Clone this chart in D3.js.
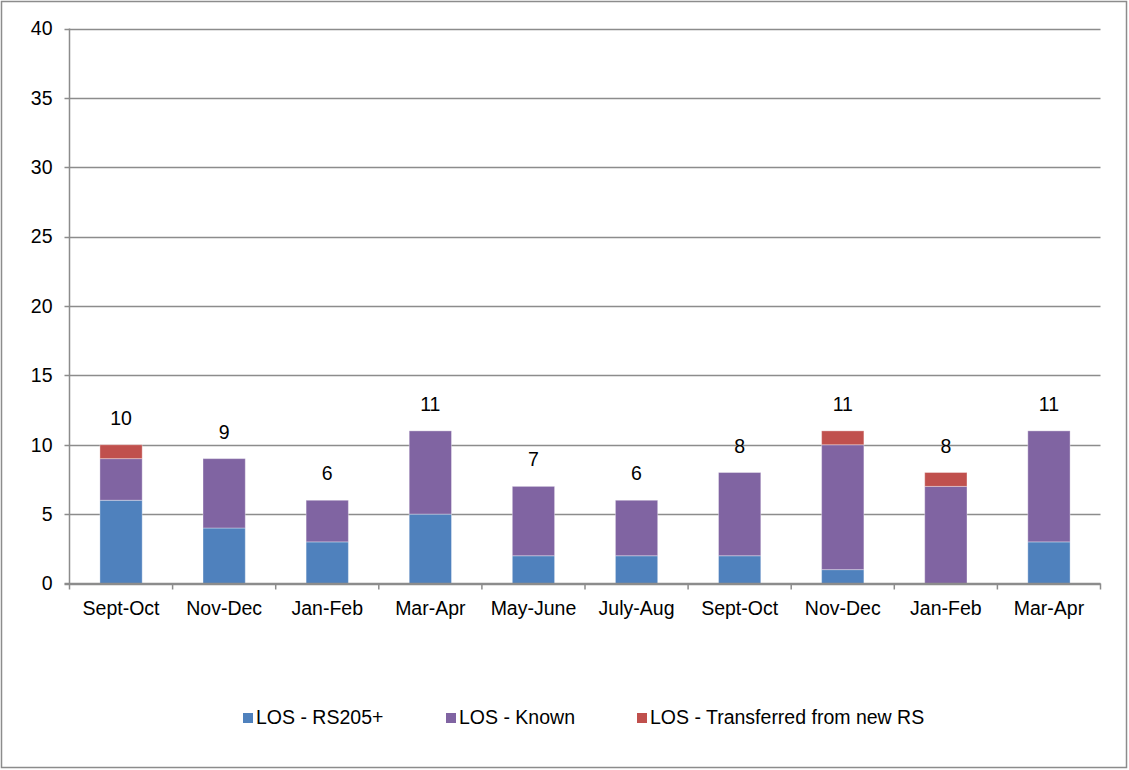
<!DOCTYPE html>
<html><head><meta charset="utf-8">
<script src="https://cdn.jsdelivr.net/npm/d3@7"></script>
<style>body{margin:0;background:#fff}svg{display:block}text{font-family:"Liberation Sans",Arial,sans-serif}</style>
</head><body>
<script>
const categories = ["Sept-Oct","Nov-Dec","Jan-Feb","Mar-Apr","May-June","July-Aug","Sept-Oct","Nov-Dec","Jan-Feb","Mar-Apr"];
const rs205 = [6,4,3,5,2,2,2,1,0,3];
const known = [3,5,3,6,5,4,6,9,7,8];
const transferred = [1,0,0,0,0,0,0,1,1,0];
const seriesNames = ["LOS - RS205+","LOS - Known","LOS - Transferred from new RS"];
const yTicks = [0,5,10,15,20,25,30,35,40];
const colors = ["#4F81BD","#8064A2","#C0504D"];

const W=1129,H=770,FS=19.5;
const svg=d3.select("body").append("svg").attr("width",W).attr("height",H);
svg.append("rect").attr("x",1.5).attr("y",1.5).attr("width",W-4).attr("height",H-4).attr("fill","#fff").attr("stroke","#8c8c8c").attr("stroke-width",1.5);

const L=69.5,R=1100.5,T=28.5,B=583.5;
const x=d3.scaleBand().domain(d3.range(categories.length)).range([L,R]).paddingInner(0.59).paddingOuter(0.295);
const y=d3.scaleLinear().domain([0,40]).range([B,T]);

const g=svg.append("g");
g.selectAll("line.grid").data(yTicks).join("line").attr("x1",L-5).attr("x2",R).attr("y1",d=>Math.round(y(d))+0.5).attr("y2",d=>Math.round(y(d))+0.5).attr("stroke","#8c8c8c").attr("stroke-width",1.3);
g.selectAll("text.yl").data(yTicks).join("text").attr("x",L-17).attr("y",d=>y(d)).attr("dy","0.35em").attr("text-anchor","end").attr("font-size",FS).attr("fill","#000").text(d=>d);

const data=categories.map((c,i)=>({i,vals:[rs205[i],known[i],transferred[i]]}));
const stack=d3.stack().keys([0,1,2]).value((d,k)=>d.vals[k]);
const layers=stack(data);
layers.forEach((layer,k)=>{
  g.selectAll(null).data(layer).join("rect")
   .attr("x",d=>x(d.data.i)).attr("width",x.bandwidth())
   .attr("y",d=>y(d[1])).attr("height",d=>Math.max(0,y(d[0])-y(d[1])))
   .attr("fill",colors[k]).attr("stroke",d=>d[1]>d[0]?"#ffffff":"none").attr("stroke-opacity",0.35).attr("stroke-width",1);
});
g.selectAll("text.tot").data(data).join("text").attr("x",d=>x(d.i)+x.bandwidth()/2).attr("y",d=>y(d3.sum(d.vals))-20)
 .attr("text-anchor","middle").attr("font-size",FS).attr("fill","#000").text(d=>d3.sum(d.vals));

g.append("line").attr("x1",L).attr("x2",L).attr("y1",T).attr("y2",B).attr("stroke","#8c8c8c").attr("stroke-width",1.5);
g.append("line").attr("x1",L-5).attr("x2",R).attr("y1",B).attr("y2",B).attr("stroke","#8c8c8c").attr("stroke-width",1.5);
const step=(R-L)/categories.length;
g.selectAll("line.xt").data(d3.range(categories.length+1)).join("line").attr("x1",d=>L+d*step).attr("x2",d=>L+d*step).attr("y1",B).attr("y2",B+6).attr("stroke","#8c8c8c").attr("stroke-width",1.5);
g.selectAll("text.xl").data(categories).join("text").attr("x",(d,i)=>x(i)+x.bandwidth()/2).attr("y",615).attr("text-anchor","middle").attr("font-size",FS).attr("fill","#000").text(d=>d);

const legX=[243,446,637];
const lg=svg.append("g");
seriesNames.forEach((n,k)=>{
  lg.append("rect").attr("x",legX[k]).attr("y",713).attr("width",10).attr("height",10).attr("fill",colors[k]);
  lg.append("text").attr("x",legX[k]+13).attr("y",724).attr("font-size",FS).attr("fill","#000").text(n);
});
</script>
</body></html>
